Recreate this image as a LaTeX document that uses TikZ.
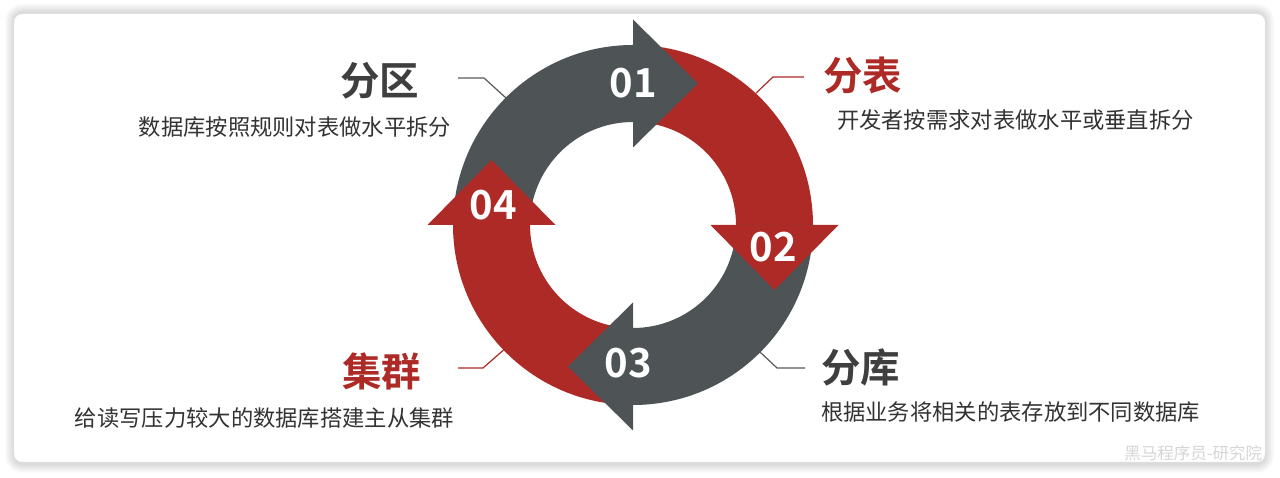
\documentclass[tikz,border=0pt]{standalone}
\usepackage{fontspec}
\setmainfont{Noto Sans CJK SC}[BoldFont={Noto Sans CJK SC Bold}]
\usepackage{xcolor}
\definecolor{ringgray}{HTML}{4E5455}
\definecolor{ringred}{HTML}{AD2A27}
\definecolor{titlegray}{HTML}{3F3F3F}
\definecolor{textgray}{HTML}{333333}
\definecolor{leadgray}{HTML}{5A5A5A}
\usetikzlibrary{calc, positioning}

\begin{document}
\begin{tikzpicture}[x=1pt,y=1pt,inner sep=0pt,outer sep=0pt,
  title/.style={font=\bfseries\fontsize{39.5}{42}\selectfont},
  desc/.style={text=textgray,font=\fontsize{22.3}{24}\selectfont},
  num/.style={text=white,font=\bfseries\fontsize{40}{44}\selectfont},
  leader/.style={line width=1.2pt}]
\useasboundingbox (0,0) rectangle (1280,478);
\fill[white] (0,0) rectangle (1280,478);
% card and its soft shadow
\foreach \s in {1,...,9}
  \fill[black,opacity=0.014,rounded corners=8+\s] (14-\s,14-\s) rectangle (1265+\s,465+\s);
\draw[black!8,fill=white,rounded corners=8] (14,16) rectangle (1265,464);
% ring: four bands, then the four heads on top
\coordinate (ctr) at (633,253);
\foreach \a/\col in {180/ringgray,90/ringred,0/ringgray,-90/ringred}
  \fill[\col] ($(ctr)+(\a:180)$) arc[start angle=\a,end angle=\a-90,radius=180]
    -- ($(ctr)+(\a-90:103)$) arc[start angle=\a-90,end angle=\a,radius=103] -- cycle;
\foreach \a/\col in {90/ringgray,0/ringred,-90/ringgray,180/ringred}
  \fill[\col] ($(ctr)+(\a:77.5)$) -- ($(ctr)+(\a:205.5)$)
    -- ($(ctr)+(\a:141.5)+(\a-90:65)$) -- cycle;
\node[num] (n01) at (633,395) {01};
\node[num] (n02) at (773,231) {02};
\node[num] (n03) at (628,115) {03};
\node[num] (n04) at (493,273) {04};
% labels
\node[title,text=titlegray,anchor=east] (tQu) at (419,397) {分区};
\node[desc,anchor=east] (dQu) at (451,351) {数据库按照规则对表做水平拆分};
\node[title,text=ringred,anchor=west] (tBiao) at (823,402) {分表};
\node[desc,anchor=west] (dBiao) at (837,358) {开发者按需求对表做水平或垂直拆分};
\node[title,text=titlegray,anchor=west] (tKu) at (821,111) {分库};
\node[desc,anchor=west] (dKu) at (821,66) {根据业务将相关的表存放到不同数据库};
\node[title,text=ringred,anchor=east] (tJi) at (421,107) {集群};
\node[desc,anchor=east] (dJi) at (454,60) {给读写压力较大的数据库搭建主从集群};
% leader lines
\coordinate (pQu) at ($(ctr)+(135:180)$);
\coordinate (eQu) at (484,400);
\coordinate (sQu) at (458,400);
\coordinate (pBiao) at ($(ctr)+(47:180)$);
\coordinate (eBiao) at (773,401);
\coordinate (sBiao) at (804,401);
\coordinate (pKu) at ($(ctr)+(-45:180)$);
\coordinate (eKu) at (777,110);
\coordinate (sKu) at (805,110);
\coordinate (pJi) at ($(ctr)+(-136:180)$);
\coordinate (eJi) at (483,110);
\coordinate (sJi) at (458,110);
\draw[leader,leadgray] (pQu) -- (eQu) -- (sQu);
\draw[leader,ringred] (pBiao) -- (eBiao) -- (sBiao);
\draw[leader,leadgray] (pKu) -- (eKu) -- (sKu);
\draw[leader,ringred] (pJi) -- (eJi) -- (sJi);
\node[text=black!16,font=\fontsize{16.5}{18}\selectfont,anchor=east] (wmark) at (1262,25) {黑马程序员-研究院};
\end{tikzpicture}
\end{document}
